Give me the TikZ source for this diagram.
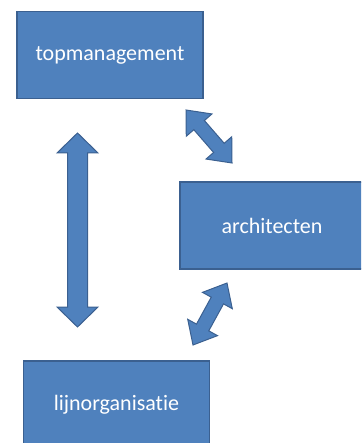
\documentclass[tikz,border=0pt]{standalone}
\usepackage{fontspec}
\setmainfont{Carlito}[Ligatures=NoCommon]
\usetikzlibrary{calc}
\definecolor{boxblue}{HTML}{4F81BD}
\definecolor{boxline}{HTML}{3B6090}
\tikzset{
  block/.style={rectangle, fill=boxblue, draw=boxline, line width=1.3pt,
    minimum width=186pt, minimum height=87pt, inner sep=0pt, text=white,
    font=\fontsize{22}{26}\selectfont},
  blockarrow/.style={fill=boxblue, draw=boxline, line width=1pt, line join=miter}
}
% #1 from, #2 to, #3 shaft half width, #4 head half width, #5 head length
\newcommand{\dblblock}[5]{%
  \filldraw[blockarrow] (#1)
   -- ($(#1)!#5!(#2)!#4!90:(#2)$)
   -- ($(#1)!#5!(#2)!#3!90:(#2)$)
   -- ($(#2)!#5!(#1)!#3!-90:(#1)$)
   -- ($(#2)!#5!(#1)!#4!-90:(#1)$)
   -- (#2)
   -- ($(#2)!#5!(#1)!#4!90:(#1)$)
   -- ($(#2)!#5!(#1)!#3!90:(#1)$)
   -- ($(#1)!#5!(#2)!#3!-90:(#2)$)
   -- ($(#1)!#5!(#2)!#4!-90:(#2)$)
   -- cycle;}
\begin{document}
\begin{tikzpicture}[x=1pt,y=-1pt]
  \useasboundingbox (0,0) rectangle (361,443);
  \clip (0,0) rectangle (361,443);
  \node[block] (top) at (110,55) {topmanagement};
  \node[block, minimum width=184pt] (arch) at (272,225.5) {architecten};
  \node[block] (lijn) at (116.5,404.5) {lijnorganisatie};
  % arrow end points
  \coordinate (v1) at (77.5,133);
  \coordinate (v2) at (77.5,327);
  \coordinate (u1) at (186,110);
  \coordinate (u2) at (232,163);
  \coordinate (l1) at (227,283);
  \coordinate (l2) at (193,345);
  \dblblock{v1}{v2}{10pt}{20.5pt}{20pt}
  \dblblock{u1}{u2}{7pt}{17pt}{20pt}
  \dblblock{l1}{l2}{7pt}{17pt}{20pt}
\end{tikzpicture}
\end{document}
